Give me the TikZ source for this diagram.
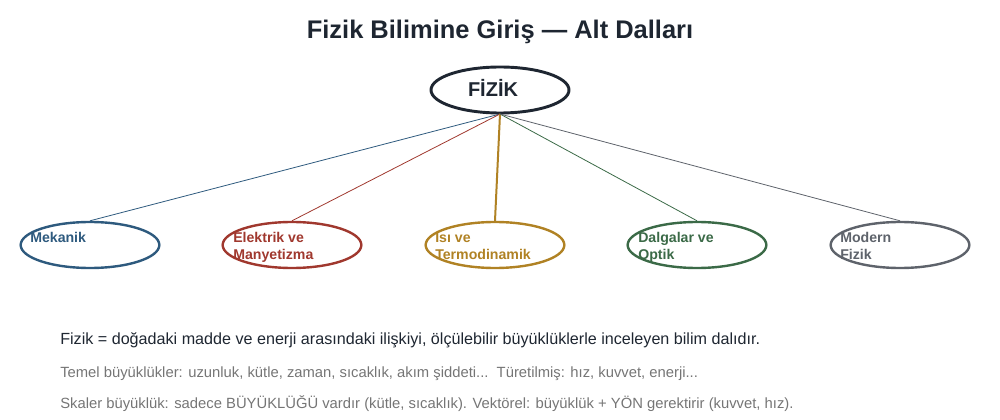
\documentclass[tikz,border=0pt]{standalone}
\usepackage{fontspec}
\setmainfont{Liberation Sans}
\usetikzlibrary{shapes.geometric}
\definecolor{titlec}{HTML}{1E2631}
\definecolor{cmek}{HTML}{2E5A7E}
\definecolor{celk}{HTML}{A0382E}
\definecolor{cisi}{HTML}{B08224}
\definecolor{cdal}{HTML}{3B6A47}
\definecolor{cmod}{HTML}{5E636B}
\definecolor{cgray}{HTML}{757575}
\tikzset{
  branch/.style={ellipse, draw=#1, line width=1.8pt, minimum width=104pt, minimum height=34.5pt, inner sep=0pt},
  blabel/.style={text=#1, font=\fontsize{10.6}{12.5}\selectfont\bfseries, anchor=base west, align=left, inner sep=0pt},
  conn/.style={draw=#1, line width=0.6pt},
}
\begin{document}
\begin{tikzpicture}[x=0.75pt,y=-0.75pt]
\useasboundingbox (0,0) rectangle (1000,420);
\node[font=\fontsize{19.1}{22}\selectfont\bfseries, text=titlec] (title) at (500,32) {Fizik Bilimine Giriş — Alt Dalları};
\node[ellipse, draw=titlec, line width=2.2pt, minimum width=103.5pt, minimum height=34.5pt, inner sep=0pt] (root) at (500,90) {};
\node[font=\fontsize{15}{16}\selectfont\bfseries, text=titlec] (rootl) at (493,88) {FİZİK};
\coordinate (hub) at (500,114);

\node[branch=cmek] (mek) at (90,245) {};
\node[branch=celk] (elk) at (292,245) {};
\node[branch=cisi] (isi) at (495,245) {};
\node[branch=cdal] (dal) at (697,245) {};
\node[branch=cmod] (mod) at (900,245) {};

\node[blabel=cmek] (mekl) at (30,243) {Mekanik};
\node[blabel=celk] (elkl) at (233,260) {Elektrik ve\\[0.5pt]Manyetizma};
\node[blabel=cisi] (isil) at (435,260) {Isı ve\\[0.5pt]Termodinamik};
\node[blabel=cdal] (dall) at (638,260) {Dalgalar ve\\[0.5pt]Optik};
\node[blabel=cmod] (modl) at (840,260) {Modern\\[0.5pt]Fizik};

\draw[conn=cmek] (hub) -- (mek.north);
\draw[conn=celk] (hub) -- (elk.north);
\draw[conn=cisi, line width=1.5pt] (hub) -- (isi.north);
\draw[conn=cdal] (hub) -- (dal.north);
\draw[conn=cmod] (hub) -- (mod.north);

\node[anchor=west, inner sep=0pt, font=\fontsize{12.1}{14}\selectfont, text=titlec] (t1) at (60,340) {Fizik = doğadaki madde ve enerji arasındaki ilişkiyi, ölçülebilir büyüklüklerle inceleyen bilim dalıdır.};
\node[anchor=west, inner sep=0pt, font=\fontsize{11.1}{13}\selectfont, text=cgray] (t2) at (60,374) {Temel büyüklükler: uzunluk, kütle, zaman, sıcaklık, akım şiddeti...\ \ Türetilmiş: hız, kuvvet, enerji...};
\node[anchor=west, inner sep=0pt, font=\fontsize{11.1}{13}\selectfont, text=cgray] (t3) at (60,404) {Skaler büyüklük: sadece BÜYÜKLÜĞÜ vardır (kütle, sıcaklık). Vektörel: büyüklük + YÖN gerektirir (kuvvet, hız).};
\end{tikzpicture}
\end{document}
